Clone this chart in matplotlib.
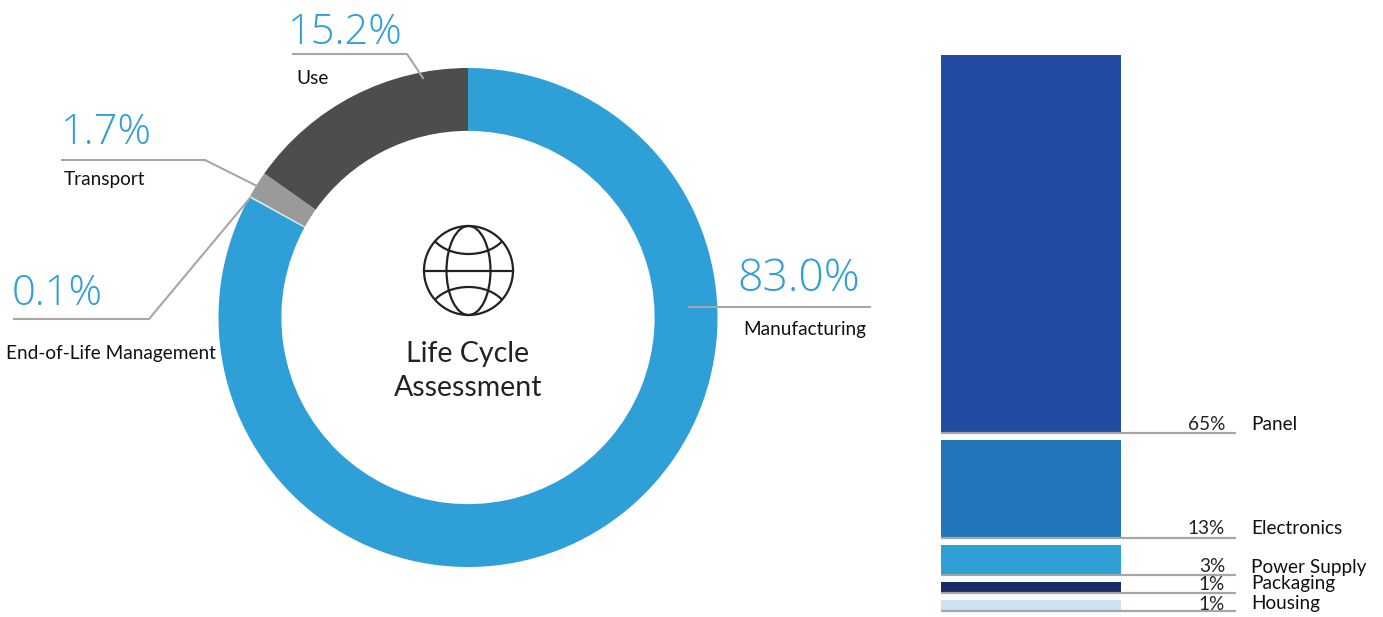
import matplotlib
matplotlib.use('Agg')
import matplotlib.pyplot as plt
from matplotlib.patches import Circle, Ellipse, Arc

# Donut values
stage_names = ['Manufacturing', 'End-of-Life Management', 'Transport', 'Use']
stage_values = [83.0, 0.1, 1.7, 15.2]
stage_labels = ['83.0%', '0.1%', '1.7%', '15.2%']
stage_colors = ['#2f9fd8', '#d9e6ee', '#9a9a9a', '#4d4d4d']

# Right hand stack, heights
part_names = ['Panel', 'Electronics', 'Power Supply', 'Packaging', 'Housing']
part_labels = ['65%', '13%', '3%', '1%', '1%']
part_heights = [378, 98, 30, 10.5, 11]
part_colors = ['#214aa0', '#2476ba', '#2f9fd8', '#1b2a63', '#cfe2f1']

W, H = 1383, 617
BLUE = '#2f9fd8'
LINE = '#a6a6a6'

plt.rcParams['font.family'] = ['Lato', 'DejaVu Sans']

fig = plt.figure(figsize=(W / 100, H / 100), dpi=100)

# donut
ax_pie = fig.add_axes([218.5 / W, 1 - 567 / H, 499 / W, 499 / H])
ax_pie.pie(stage_values, colors=stage_colors, startangle=90, counterclock=False,
           radius=1, wedgeprops={'width': 0.252, 'linewidth': 0})
ax_pie.set_xlim(-1, 1)
ax_pie.set_ylim(-1, 1)

# pixel coordinates for the stack, labels and leader lines
ax = fig.add_axes([0, 0, 1, 1])
ax.set_xlim(0, W)
ax.set_ylim(H, 0)
ax.axis('off')
ax.patch.set_alpha(0)

top = 55
for h, c in zip(part_heights, part_colors):
    ax.bar(1031, h, width=180, bottom=top, color=c, linewidth=0)
    ax.plot([941, 1236], [top + h, top + h], color=LINE, lw=1.6, solid_capstyle='butt')
    top += h + 7

# text for the stack
part_text_y = [424, 529, 567, 584, 604]
for name, lab, y in zip(part_names, part_labels, part_text_y):
    ax.text(1225, y, lab, ha='right', va='center', fontsize=13.7, color='#222222')
    ax.text(1251, y, name, ha='left', va='center', fontsize=13.7, color='#111111')

# leader lines
ax.plot([293, 407, 423], [54, 54, 78], color=LINE, lw=1.5)
ax.plot([62, 205, 257], [160, 160, 186], color=LINE, lw=1.5)
ax.plot([14, 149, 250], [319, 319, 198], color=LINE, lw=1.5)
ax.plot([689, 870], [307, 307], color=LINE, lw=1.5)

# big percentages and names
label_pos = [(799, 291), (57, 305), (106, 144), (345, 44)]
label_size = [32, 30, 30, 30]
name_pos = [(805, 329), (111, 354), (105, 180), (313, 78)]
for lab, name, p, q, s in zip(stage_labels, stage_names, label_pos, name_pos, label_size):
    ax.text(p[0], p[1], lab, ha='center', va='baseline', fontsize=s, color=BLUE,
            family='Open Sans', fontweight='light')
    ax.text(q[0], q[1], name, ha='center', va='center', fontsize=13.7, color='#111111')

# centre text
ax.text(468, 354, 'Life Cycle', ha='center', va='center', fontsize=20.5, color='#222222')
ax.text(468, 388, 'Assessment', ha='center', va='center', fontsize=20.5, color='#222222')

# globe icon
gx, gy, gr = 468.5, 270.5, 44.5
ax.add_patch(Circle((gx, gy), gr, fill=False, ec='#222222', lw=1.6))
ax.add_patch(Ellipse((gx, gy), 44, 89, fill=False, ec='#222222', lw=1.6))
ax.plot([gx - gr, gx + gr], [gy, gy], color='#222222', lw=1.6)
ax.add_patch(Arc((gx, gy - 44.5), 80, 56, theta1=25, theta2=155, ec='#222222', lw=1.6))
ax.add_patch(Arc((gx, gy + 44.5), 80, 56, theta1=205, theta2=335, ec='#222222', lw=1.6))

fig.savefig('out.png', dpi=100)
